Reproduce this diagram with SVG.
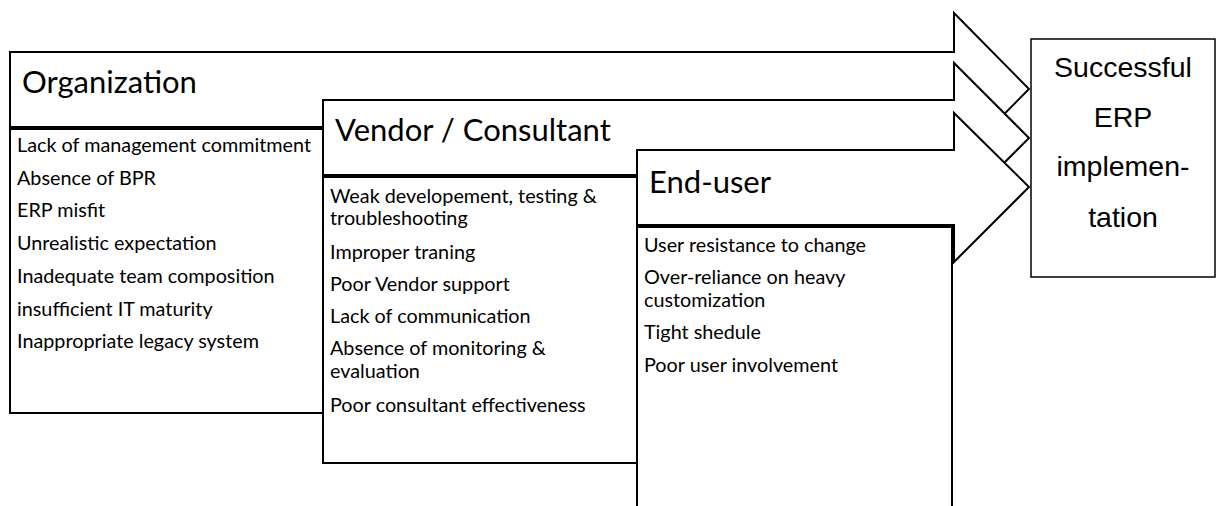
<svg xmlns="http://www.w3.org/2000/svg" width="1221" height="506" viewBox="0 0 1221 506">
<style>
.shape{fill:#fff;stroke:#000;stroke-width:2;stroke-linejoin:miter}
.hdr{font-family:Lato,"Open Sans",sans-serif;font-size:31px;fill:#000}
.item{font-family:Lato,"Open Sans",sans-serif;font-size:19.8px;fill:#000}
.goal{font-family:"Liberation Sans",Arial,sans-serif;font-size:28.5px;fill:#000;text-anchor:middle}
</style>
<rect width="1221" height="506" fill="#fff"/>
<g id="organization">
<polygon class="shape" points="10,52 954,52 954,13 1029,89 954,165 954,127 10,127"/>
<text class="hdr" x="22" y="93">Organization</text>
<rect class="shape" x="10" y="129" width="313" height="284"/>
<text class="item" x="17" y="152">Lack of management commitment</text>
<text class="item" x="17" y="185">Absence of BPR</text>
<text class="item" x="17" y="217">ERP misfit</text>
<text class="item" x="17" y="250">Unrealistic expectation</text>
<text class="item" x="17" y="283">Inadequate team composition</text>
<text class="item" x="17" y="316">insufficient IT maturity</text>
<text class="item" x="17" y="348">Inappropriate legacy system</text>
</g>
<g id="vendor">
<polygon class="shape" points="323,100 954,100 954,63 1029,138 954,213 954,175 323,175"/>
<text class="hdr" x="335" y="141">Vendor / Consultant</text>
<rect class="shape" x="323" y="177" width="314" height="286"/>
<text class="item" x="330" y="203">Weak developement, testing &amp;</text>
<text class="item" x="330" y="225">troubleshooting</text>
<text class="item" x="330" y="259">Improper traning</text>
<text class="item" x="330" y="291">Poor Vendor support</text>
<text class="item" x="330" y="323">Lack of communication</text>
<text class="item" x="330" y="355">Absence of monitoring &amp;</text>
<text class="item" x="330" y="378">evaluation</text>
<text class="item" x="330" y="412">Poor consultant effectiveness</text>
</g>
<g id="enduser">
<polygon class="shape" points="637,150 954,150 954,113 1029,187 954,262 954,225 637,225"/>
<text class="hdr" x="649" y="193">End-user</text>
<rect class="shape" x="637" y="227" width="315" height="290"/>
<text class="item" x="644" y="252">User resistance to change</text>
<text class="item" x="644" y="284">Over-reliance on heavy</text>
<text class="item" x="644" y="307">customization</text>
<text class="item" x="644" y="339">Tight shedule</text>
<text class="item" x="644" y="372">Poor user involvement</text>
</g>
<g id="connectors"></g>
<g id="success">
<rect class="shape" x="1031" y="39" width="184" height="238" style="stroke-width:1.5"/>
<text class="goal" x="1123" y="77">Successful</text>
<text class="goal" x="1123" y="127">ERP</text>
<text class="goal" x="1123" y="176">implemen-</text>
<text class="goal" x="1123" y="227">tation</text>
</g>
</svg>
